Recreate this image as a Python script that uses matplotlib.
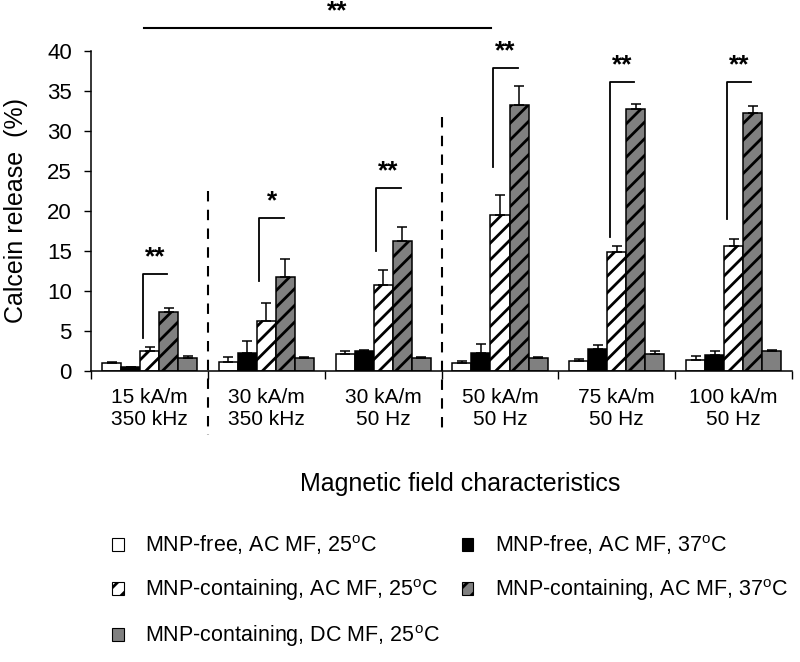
import matplotlib
matplotlib.use("Agg")
import matplotlib.pyplot as plt
from matplotlib.patches import Patch
import numpy as np

plt.rcParams["font.family"] = ["Liberation Sans", "DejaVu Sans"]
plt.rcParams["hatch.linewidth"] = 2.0

groups = ["15 kA/m\n350 kHz", "30 kA/m\n350 kHz", "30 kA/m\n50 Hz",
          "50 kA/m\n50 Hz", "75 kA/m\n50 Hz", "100 kA/m\n50 Hz"]

deg = r"$^\mathregular{o}$"
series_labels = [
    f"MNP-free, AC MF, 25{deg}C",
    f"MNP-free, AC MF, 37{deg}C",
    f"MNP-containing, AC MF, 25{deg}C",
    f"MNP-containing, AC MF, 37{deg}C",
    f"MNP-containing, DC MF, 25{deg}C",
]

free_25 = [0.95, 1.1, 2.1, 1.0, 1.2, 1.35]
free_25_err = [0.2, 0.7, 0.45, 0.2, 0.3, 0.5]
free_37 = [0.45, 2.3, 2.55, 2.3, 2.75, 2.05]
free_37_err = [0.05, 1.5, 0.05, 1.1, 0.5, 0.5]
mnp_ac_25 = [2.55, 6.2, 10.7, 19.5, 14.9, 15.6]
mnp_ac_25_err = [0.5, 2.3, 1.9, 2.5, 0.7, 0.9]
mnp_ac_37 = [7.4, 11.8, 16.3, 33.2, 32.7, 32.3]
mnp_ac_37_err = [0.45, 2.2, 1.7, 2.4, 0.7, 0.85]
mnp_dc_25 = [1.6, 1.6, 1.6, 1.6, 2.1, 2.5]
mnp_dc_25_err = [0.3, 0.2, 0.2, 0.2, 0.45, 0.1]

# significance brackets per group
bracket_bottom = [4.1, 11.3, 15.0, 25.5, 16.7, 19.0]
bracket_top = [12.1, 19.1, 22.9, 37.9, 36.1, 36.1]
bracket_stars = ["**", "*", "**", "**", "**", "**"]

gray = "#808080"
styles = [
    dict(color="white", hatch=None),
    dict(color="black", hatch=None),
    dict(color="white", hatch="//"),
    dict(color=gray, hatch="//"),
    dict(color=gray, hatch=None),
]
values = [free_25, free_37, mnp_ac_25, mnp_ac_37, mnp_dc_25]
errors = [free_25_err, free_37_err, mnp_ac_25_err, mnp_ac_37_err, mnp_dc_25_err]

fig = plt.figure(figsize=(8, 6.62), dpi=100)
ax = fig.add_axes([0.114, 0.4396, 0.876, 0.4834])

x = np.arange(len(groups))
w = 0.163
for i, (vals, errs, st) in enumerate(zip(values, errors, styles)):
    pos = x + (i - 2) * w
    ax.bar(pos, vals, width=w, color=st["color"], edgecolor="black",
           linewidth=1.1, hatch=st["hatch"], zorder=2)
    ax.errorbar(pos, vals, yerr=[np.zeros(len(vals)), errs], fmt="none",
                ecolor="black", elinewidth=1.1, capsize=3.5, capthick=1.1,
                zorder=3)

# brackets
for i in range(len(groups)):
    xl = x[i] - 0.06
    xr = x[i] + 0.15
    ax.plot([xl, xl, xr], [bracket_bottom[i], bracket_top[i], bracket_top[i]],
            color="black", lw=1.3, clip_on=False, zorder=4)
    ax.text((xl + xr) / 2, bracket_top[i] + 0.6, bracket_stars[i],
            ha="center", va="bottom", fontsize=19, fontweight="bold",
            clip_on=False)

# long bracket on top
ax.plot([x[0] - 0.05, x[3] - 0.08], [42.9, 42.9], color="black", lw=1.5,
        clip_on=False)
ax.text(1.606, 43.4, "**", ha="center", va="bottom", fontsize=19,
        fontweight="bold", clip_on=False)

# dashed separators
ax.plot([0.5, 0.5], [22.5, -8.0], color="black", lw=1.5, ls=(0, (5, 4)),
        clip_on=False)
ax.plot([2.5, 2.5], [31.8, -8.0], color="black", lw=1.5, ls=(0, (5, 4)),
        clip_on=False)

ax.set_xlim(-0.5, 5.5)
ax.set_ylim(0, 40)
ax.set_yticks(range(0, 41, 5))
ax.tick_params(axis="y", labelsize=16, length=5, width=1, direction="out",
               pad=9)
ax.set_xticks(np.arange(-0.5, 5.6, 1))
ax.set_xticklabels([])
ax.tick_params(axis="x", which="major", length=6, width=1, direction="out")
ax.set_xticks(x, minor=True)
ax.set_xticklabels(groups, minor=True, fontsize=15, linespacing=1.2)
ax.tick_params(axis="x", which="minor", length=0, pad=12)

ax.spines["top"].set_visible(False)
ax.spines["right"].set_visible(False)
for s in ("left", "bottom"):
    ax.spines[s].set_linewidth(1.1)

ax.set_ylabel("Calcein release  (%)", fontsize=18)
ax.yaxis.set_label_coords(-0.09, 0.5)
ax.set_xlabel("Magnetic field characteristics", fontsize=18)
ax.xaxis.label.set_va("center")
ax.xaxis.set_label_coords(0.526, -0.353)

handles = [Patch(facecolor=st["color"], edgecolor="black", hatch=st["hatch"],
                 linewidth=0.8) for st in styles]
order = [0, 2, 4, 1, 3]
fig.legend([handles[k] for k in order], [series_labels[k] for k in order],
           loc="upper left", bbox_to_anchor=(0.14, 0.195), ncol=2,
           frameon=False, fontsize=15.5, handlelength=0.55, handleheight=0.55,
           handletextpad=1.0, columnspacing=1.0, labelspacing=0.95,
           borderpad=0, borderaxespad=0)

fig.savefig("out.png", dpi=100)
